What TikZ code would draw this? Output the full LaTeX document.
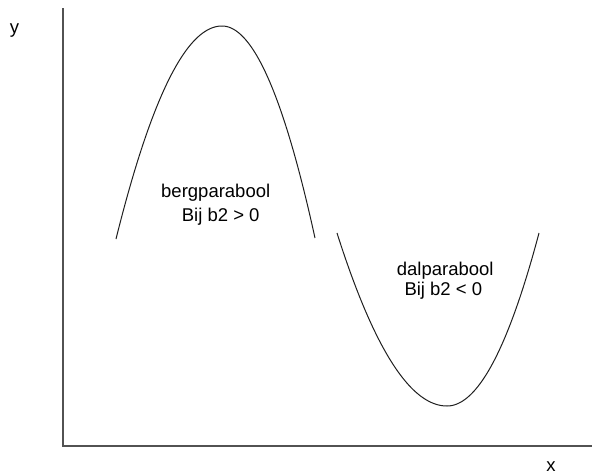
\documentclass[tikz,border=0pt]{standalone}
\usepackage{fontspec}
\setmainfont{Liberation Sans}
\begin{document}
\begin{tikzpicture}[x=1pt,y=-1pt,
  axis/.style={draw=black!68,line width=1.6pt},
  curve/.style={draw=black!88,line width=1pt},
  lbl/.style={inner sep=0pt,anchor=base west,text=black,font=\fontsize{18.5}{22}\selectfont}]
\useasboundingbox (0,0) rectangle (592,474);
\coordinate (ytop) at (63,8);
\coordinate (org) at (63,446);
\coordinate (xend) at (592,446);
\draw[axis] (ytop) -- (org) -- (xend);
\node[lbl,anchor=center] (ylab) at (14.5,31) {y};
\node[lbl,anchor=base] (xlab) at (551,471) {x};
% bergparabool
\draw[curve] plot[domain=116:222,samples=60,smooth] (\x,{26+213*((\x-222)/106)^2});
\draw[curve] plot[domain=222:315,samples=60,smooth] (\x,{26+212*((\x-222)/93)^2});
% dalparabool
\draw[curve] plot[domain=337:447,samples=60,smooth] (\x,{406-173*((\x-447)/110)^2});
\draw[curve] plot[domain=447:539,samples=60,smooth] (\x,{406-173*((\x-447)/92)^2});
\node[lbl] (berg) at (161,197.7) {bergparabool};
\node[lbl] (bergc) at (181.7,221.7) {Bij b2 > 0};
\node[lbl] (dal) at (396.7,275) {dalparabool};
\node[lbl] (dalc) at (404.3,295) {Bij b2 < 0};
\end{tikzpicture}
\end{document}
